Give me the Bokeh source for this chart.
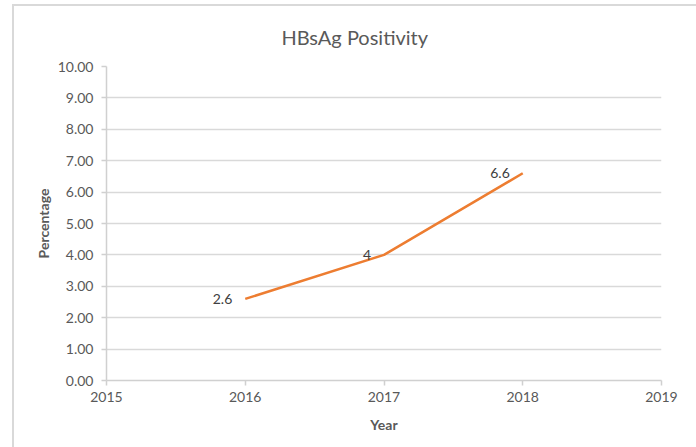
from bokeh.plotting import figure
from bokeh.models import ColumnDataSource, FixedTicker, NumeralTickFormatter, Range1d
from bokeh.core.properties import value
from bokeh.embed import file_html
from bokeh.resources import INLINE

title_text = "HBsAg Positivity"
x_title = "Year"
y_title = "Percentage"
years = [2016, 2017, 2018]
positivity = [2.6, 4.0, 6.6]
point_labels = ["2.6", "4", "6.6"]
x_ticks = [2015, 2016, 2017, 2018, 2019]
y_ticks = [0, 1, 2, 3, 4, 5, 6, 7, 8, 9, 10]

FONT = "Lato"
GREY = "#595959"

src = ColumnDataSource(dict(x=years, y=positivity, t=point_labels))

p = figure(width=682, height=441, output_backend="svg", toolbar_location=None,
           x_range=Range1d(x_ticks[0], x_ticks[-1]), y_range=Range1d(y_ticks[0], y_ticks[-1]),
           min_border_left=92, min_border_right=35, min_border_top=60, min_border_bottom=67,
           frame_width=555, frame_height=314)
p.styles = {"margin-top": "4px", "margin-left": "12px",
            "border-top": "2px solid #d9d9d9", "border-left": "2px solid #d9d9d9"}
p.outline_line_color = None

p.title.text = title_text
p.title.align = "left"
p.title.offset = 175
p.title.vertical_align = "middle"
p.title.text_font = FONT
p.title.text_font_size = "20px"
p.title.text_font_style = "normal"
p.title.text_color = GREY
p.title.standoff = 33

p.line("x", "y", source=src, line_color="#ED7D31", line_width=2.5)
p.text("x", "y", text="t", source=src, x_offset=-13, text_align="right",
       text_baseline="middle", text_font=value(FONT), text_font_size="14px",
       text_color="#404040")

p.xaxis.ticker = FixedTicker(ticks=x_ticks)
p.yaxis.ticker = FixedTicker(ticks=y_ticks)
p.yaxis.formatter = NumeralTickFormatter(format="0.00")
for ax in (p.xaxis, p.yaxis):
    ax.major_label_text_font = FONT
    ax.major_label_text_font_size = "14px"
    ax.major_label_text_color = GREY
    ax.axis_label_text_font = FONT
    ax.axis_label_text_font_size = "14px"
    ax.axis_label_text_font_style = "bold"
    ax.axis_label_text_color = GREY
    ax.axis_line_color = "#d0d0d0"
    ax.axis_line_width = 1.5
    ax.major_tick_line_color = "#d0d0d0"
    ax.major_tick_line_width = 1.5
    ax.major_tick_out = 5
    ax.major_tick_in = 0
    ax.minor_tick_line_color = None
p.xaxis.axis_label = x_title
p.yaxis.axis_label = y_title
p.xaxis.major_label_standoff = 6
p.xaxis.axis_label_standoff = 11
p.yaxis.major_label_standoff = 8
p.yaxis.axis_label_standoff = 3

p.ygrid.grid_line_color = "#d9d9d9"
p.ygrid.grid_line_width = 1.5
p.xgrid.grid_line_color = "white"
p.xgrid.grid_line_width = 2
p.xgrid.level = "underlay"

open("out.html", "w").write(file_html(p, INLINE))
